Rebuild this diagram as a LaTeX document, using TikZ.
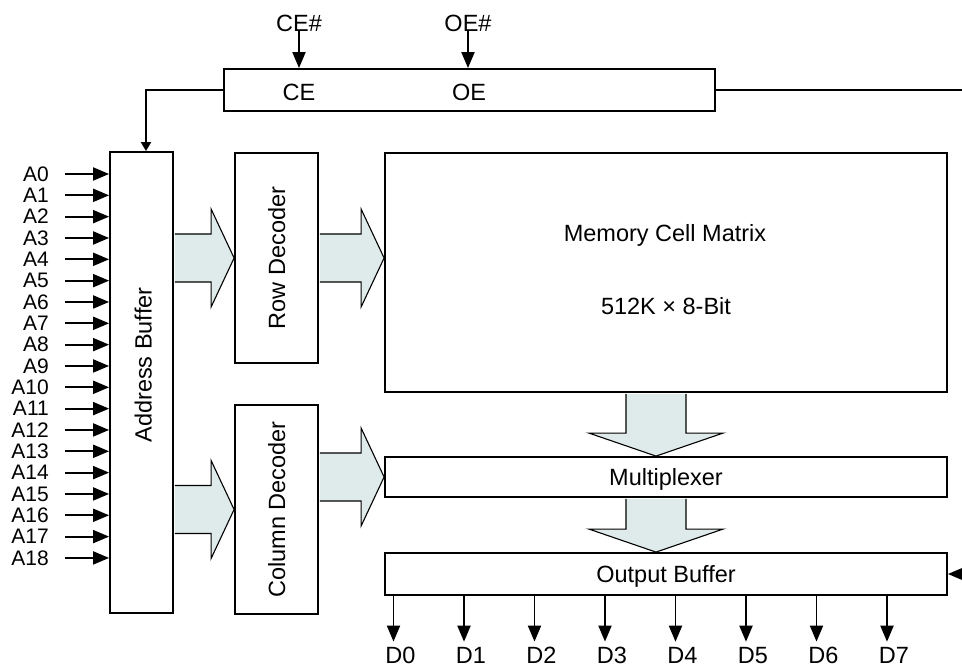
\documentclass[tikz,border=0pt]{standalone}
\usepackage{fontspec}
\setmainfont{Liberation Sans}
\usetikzlibrary{calc,arrows.meta}

\definecolor{arrowfill}{RGB}{222,235,234}
\tikzset{
	box/.style={draw, line width=1.8pt, inner sep=0pt, text depth=0pt, font=\fontsize{23.5}{27}\selectfont},
	txt/.style={inner sep=0pt, text depth=0pt, font=\fontsize{23.5}{27}\selectfont},
	pinlbl/.style={inner sep=0pt, text depth=0pt, font=\fontsize{21}{24}\selectfont},
	pin/.style={line width=1.9pt, -{Triangle[length=16pt,width=13pt]}},
	fatarrow/.style={fill=arrowfill, draw, line width=1.1pt, line join=miter},
}

% 粗箭头：向右 / 向下
\newcommand{\fatright}[2]{%
	\filldraw[fatarrow] let \p1=(#1), \p2=(#2) in
		(\x1+0.9pt,\y2+24pt) -- (\x2-23pt,\y2+24pt) -- (\x2-23pt,\y2+49pt) -- (\x2,\y2)
		-- (\x2-23pt,\y2-49pt) -- (\x2-23pt,\y2-24pt) -- (\x1+0.9pt,\y2-24pt);}
\newcommand{\fatdown}[2]{%
	\filldraw[fatarrow] let \p1=(#1), \p2=(#2) in
		(\x2-30pt,\y1-0.9pt) -- (\x2-30pt,\y2+23pt) -- (\x2-67pt,\y2+23pt) -- (\x2,\y2)
		-- (\x2+67pt,\y2+23pt) -- (\x2+30pt,\y2+23pt) -- (\x2+30pt,\y1-0.9pt);}

\begin{document}
\begin{tikzpicture}[x=1pt, y=-1pt]
	\useasboundingbox (0,0) rectangle (962,668);
	
	% 控制逻辑
	\node[box, minimum width=491pt, minimum height=42pt] (ctrl) at (469.5,90) {};
	\node[txt] (ceTxt) at (299,92.5) {CE};
	\node[txt] (oeTxt) at (469,92.5) {OE};
	\node[txt] (ceIn) at (299,23) {CE\#};
	\node[txt] (oeIn) at (468,23) {OE\#};
	\draw[pin] (ceIn) -- (ceIn |- ctrl.north);
	\draw[pin] (oeIn) -- (oeIn |- ctrl.north);
	\coordinate (ctrlOut) at (962,90);
	\draw[line width=1.9pt] (ctrl.east) -- (ctrlOut);
	
	% 地址缓冲与译码器
	\node[box, minimum width=63pt, minimum height=461pt] (ab) at (141.5,382.5) {};
	\node[txt, rotate=90] (abTxt) at (143,365) {Address Buffer};
	\node[box, minimum width=83pt, minimum height=210pt,
		label={[txt, rotate=90]center:Row Decoder}] (rd) at (276.5,258) {};
	\node[box, minimum width=83pt, minimum height=209pt,
		label={[txt, rotate=90]center:Column Decoder}] (cd) at (276.5,509.5) {};
	\draw[line width=1.9pt, -{Triangle[length=9pt,width=10pt]}] (ctrl.west) -| ($(ab.north)+(4.5,0)$);
	
	% 存储阵列、多路选择器、输出缓冲
	\node[box, minimum width=562pt, minimum height=239pt] (mem) at (666,272.5) {};
	\node[txt] (memTxt) at (665,232.5) {Memory Cell Matrix};
	\node[txt] (sizeTxt) at (666,305.5) {512K × 8-Bit};
	\node[box, minimum width=562pt, minimum height=40pt] (mux) at (666,477) {Multiplexer};
	\node[box, minimum width=562pt, minimum height=42pt] (ob) at (666,574) {Output Buffer};
	\coordinate (obIn) at (962,574);
	\draw[pin] (obIn) -- (ob.east);
	
	% 粗箭头
	\fatright{ab.east |- rd.west}{rd.west}
	\fatright{rd.east}{mem.west |- rd.east}
	\fatright{ab.east |- cd.west}{cd.west}
	\fatright{cd.east |- mux.west}{mux.west}
	\fatdown{$(mem.south)+(-10,0)$}{$(mux.north)+(-10,0)$}
	\fatdown{$(mux.south)+(-10,0)$}{$(ob.north)+(-10,0)$}
	
	% 地址线 A0--A18
	\foreach \i in {0,...,18} {
		\node[pinlbl, anchor=east] (a\i) at (49,{174+21.33*\i}) {A\i};
		\draw[pin, shorten <=16pt] (a\i) -- (a\i -| ab.west);
	}
	
	% 数据线 D0--D7
	\foreach \i in {0,...,7} {
		\node[txt] (d\i) at ({400.5+70.5*\i},655) {D\i};
		\coordinate (dt\i) at ($(d\i.north)+(-7,-5)$);
		\draw[pin] (ob.south -| dt\i) -- (dt\i);
	}
\end{tikzpicture}
\end{document}
